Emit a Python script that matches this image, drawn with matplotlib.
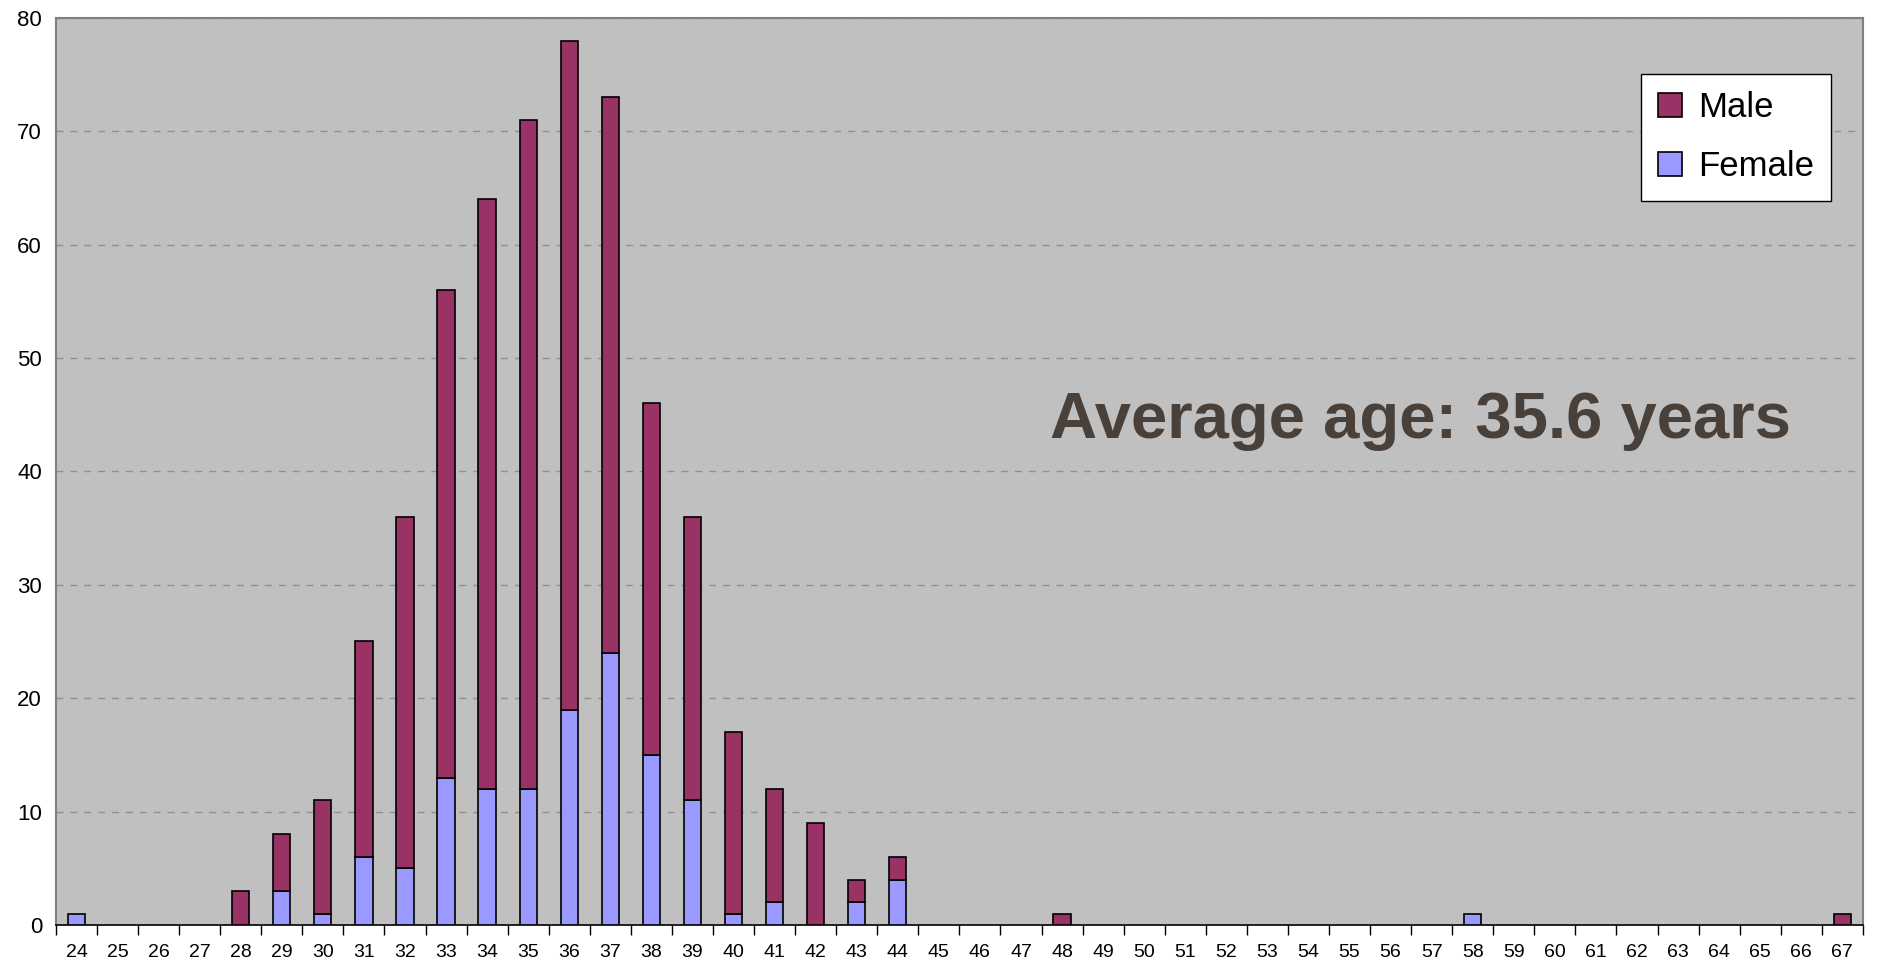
import numpy as np
import matplotlib
matplotlib.use('Agg')
import matplotlib.pyplot as plt

# ages and counts
ages = list(range(24, 68))
female = {24: 1, 29: 3, 30: 1, 31: 6, 32: 5, 33: 13, 34: 12, 35: 12, 36: 19,
          37: 24, 38: 15, 39: 11, 40: 1, 41: 2, 43: 2, 44: 4, 58: 1}
male = {28: 3, 29: 5, 30: 10, 31: 19, 32: 31, 33: 43, 34: 52, 35: 59, 36: 59,
        37: 49, 38: 31, 39: 25, 40: 16, 41: 10, 42: 9, 43: 2, 44: 2, 48: 1, 67: 1}

f_vals = np.array([female.get(a, 0) for a in ages])
m_vals = np.array([male.get(a, 0) for a in ages])

fam = ['Liberation Sans', 'DejaVu Sans']
col_male = '#993366'
col_female = '#9999FF'

fig = plt.figure(figsize=(18.83, 9.65), dpi=100)
ax = fig.add_axes([0.0297, 0.0415, 0.9596, 0.940])
ax.set_facecolor('#C0C0C0')

x = np.arange(len(ages))
w = 0.42
fm = f_vals > 0
mm = m_vals > 0
ax.bar(x[fm], f_vals[fm], w, color=col_female, edgecolor='black', linewidth=1.2,
       label='Female', zorder=3)
ax.bar(x[mm], m_vals[mm], w, bottom=f_vals[mm], color=col_male, edgecolor='black',
       linewidth=1.2, label='Male', zorder=3)

ax.set_xlim(-0.5, len(ages) - 0.5)
ax.set_ylim(0, 80)
ax.set_yticks(np.arange(0, 81, 10))
ax.set_yticklabels([str(v) for v in range(0, 81, 10)], family=fam, fontsize=16)
ax.yaxis.grid(True, linestyle=(0, (5, 5)), color='#909090', linewidth=1.0, zorder=0)
ax.tick_params(axis='y', length=0, pad=10)

# category labels at centers, tick marks at boundaries
ax.set_xticks(x)
ax.set_xticklabels([str(a) for a in ages], family=fam, fontsize=14)
ax.tick_params(axis='x', which='major', length=0, pad=14)
ax.set_xticks(np.arange(-0.5, len(ages), 1.0), minor=True)
ax.tick_params(axis='x', which='minor', length=7, width=1, color='black', direction='out')

for s in ['left', 'top', 'right']:
    ax.spines[s].set_color('#808080')
    ax.spines[s].set_linewidth(1.5)
ax.spines['bottom'].set_color('black')
ax.spines['bottom'].set_linewidth(1.2)

ax.text(0.755, 0.556, 'Average age: 35.6 years', transform=ax.transAxes,
        ha='center', va='center', fontsize=47, fontweight='bold',
        family=fam, color='#4A403A', zorder=5)

h, l = ax.get_legend_handles_labels()
leg = ax.legend(h[::-1], l[::-1], loc='upper right', bbox_to_anchor=(0.9825, 0.938),
                frameon=True, fancybox=False, handlelength=0.7,
                handleheight=0.7, handletextpad=0.45, labelspacing=0.75,
                borderpad=0.5, borderaxespad=0, prop={'family': fam, 'size': 25})
leg.get_frame().set_edgecolor('black')
leg.get_frame().set_linewidth(1.0)
leg.get_frame().set_facecolor('white')
leg.get_frame().set_alpha(1)

fig.savefig('out.png', dpi=100, facecolor='white')
